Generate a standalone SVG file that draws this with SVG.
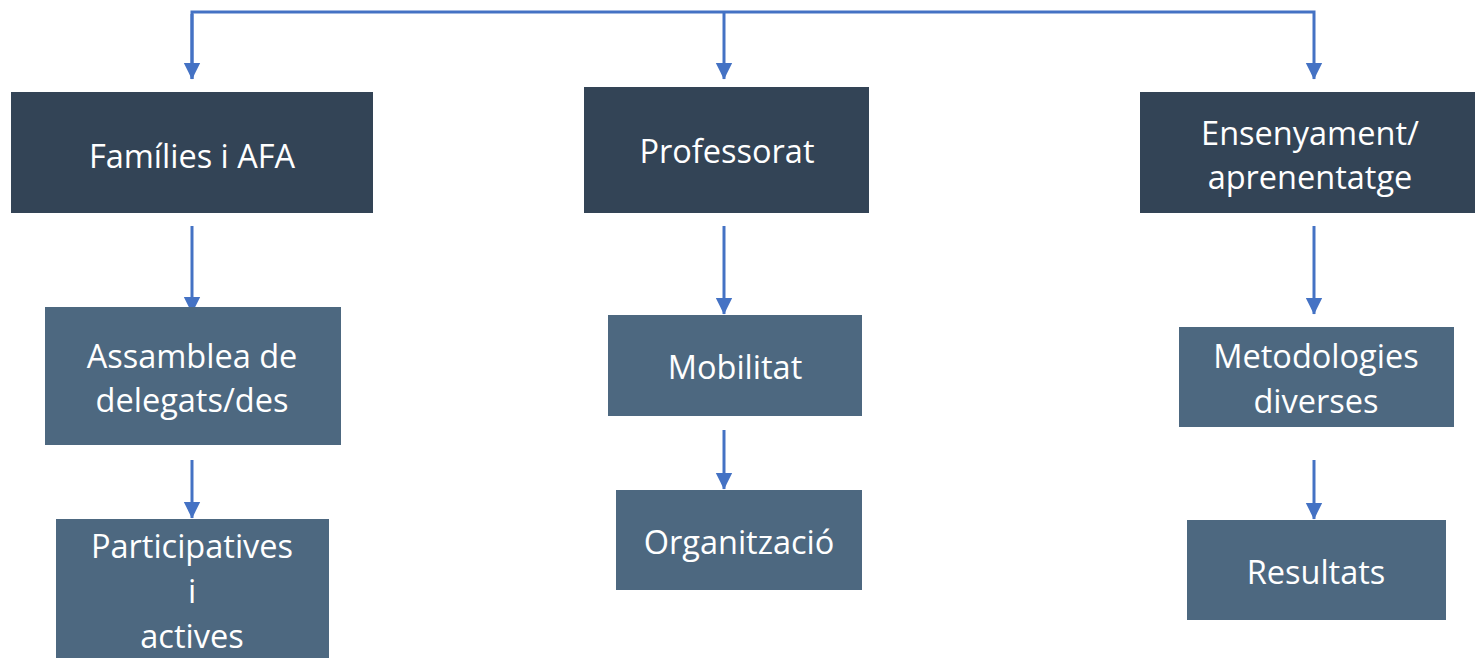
<svg xmlns="http://www.w3.org/2000/svg" width="1475" height="658" viewBox="0 0 1475 658">
<style>
.dark{fill:#334456}
.mid{fill:#4d6880}
.t{font-family:"Open Sans","Liberation Sans",sans-serif;font-size:32.5px;fill:#ffffff;text-anchor:middle}
.c{stroke:#4472c4;stroke-width:3;fill:none}
</style>
<defs>
<marker id="ah" markerWidth="6" markerHeight="6" refX="5.5" refY="3" orient="auto" markerUnits="strokeWidth">
<path d="M0,0.2 L5.7,3 L0,5.8 Z" fill="#4472c4"/>
</marker>
</defs>
<rect width="1475" height="658" fill="#ffffff"/>
<g id="connectors">
<polyline class="c" points="192,79 192,12 1314,12 1314,79" marker-end="url(#ah)"/>
<path class="c" d="M192,14 V79" marker-end="url(#ah)"/>
<path class="c" d="M724,12 V79" marker-end="url(#ah)"/>
<path class="c" d="M192,226 V313" marker-end="url(#ah)"/>
<path class="c" d="M192,460 V518" marker-end="url(#ah)"/>
<path class="c" d="M724,226 V314" marker-end="url(#ah)"/>
<path class="c" d="M724,430 V489" marker-end="url(#ah)"/>
<path class="c" d="M1314,226 V314" marker-end="url(#ah)"/>
<path class="c" d="M1314,460 V519" marker-end="url(#ah)"/>
</g>
<g id="n1"><rect class="dark" x="11" y="92" width="362" height="121"/><text class="t" x="192" y="168">Famílies i AFA</text></g>
<g id="n2"><rect class="dark" x="584" y="87" width="285" height="126"/><text class="t" x="727" y="163">Professorat</text></g>
<g id="n3"><rect class="dark" x="1140" y="92" width="335" height="121"/><text class="t" x="1310" y="145">Ensenyament/</text><text class="t" x="1310" y="189">aprenentatge</text></g>
<g id="n4"><rect class="mid" x="45" y="307" width="296" height="138"/><text class="t" x="192" y="368">Assamblea de</text><text class="t" x="192" y="412">delegats/des</text></g>
<g id="n5"><rect class="mid" x="56" y="519" width="273" height="139"/><text class="t" x="192" y="558">Participatives</text><text class="t" x="192" y="603">i</text><text class="t" x="192" y="648">actives</text></g>
<g id="n6"><rect class="mid" x="608" y="315" width="254" height="101"/><text class="t" x="735" y="379">Mobilitat</text></g>
<g id="n7"><rect class="mid" x="616" y="490" width="246" height="100"/><text class="t" x="739" y="554">Organització</text></g>
<g id="n8"><rect class="mid" x="1179" y="327" width="275" height="100"/><text class="t" x="1316" y="368">Metodologies</text><text class="t" x="1316" y="413">diverses</text></g>
<g id="n9"><rect class="mid" x="1187" y="520" width="259" height="100"/><text class="t" x="1316" y="584">Resultats</text></g>
</svg>
